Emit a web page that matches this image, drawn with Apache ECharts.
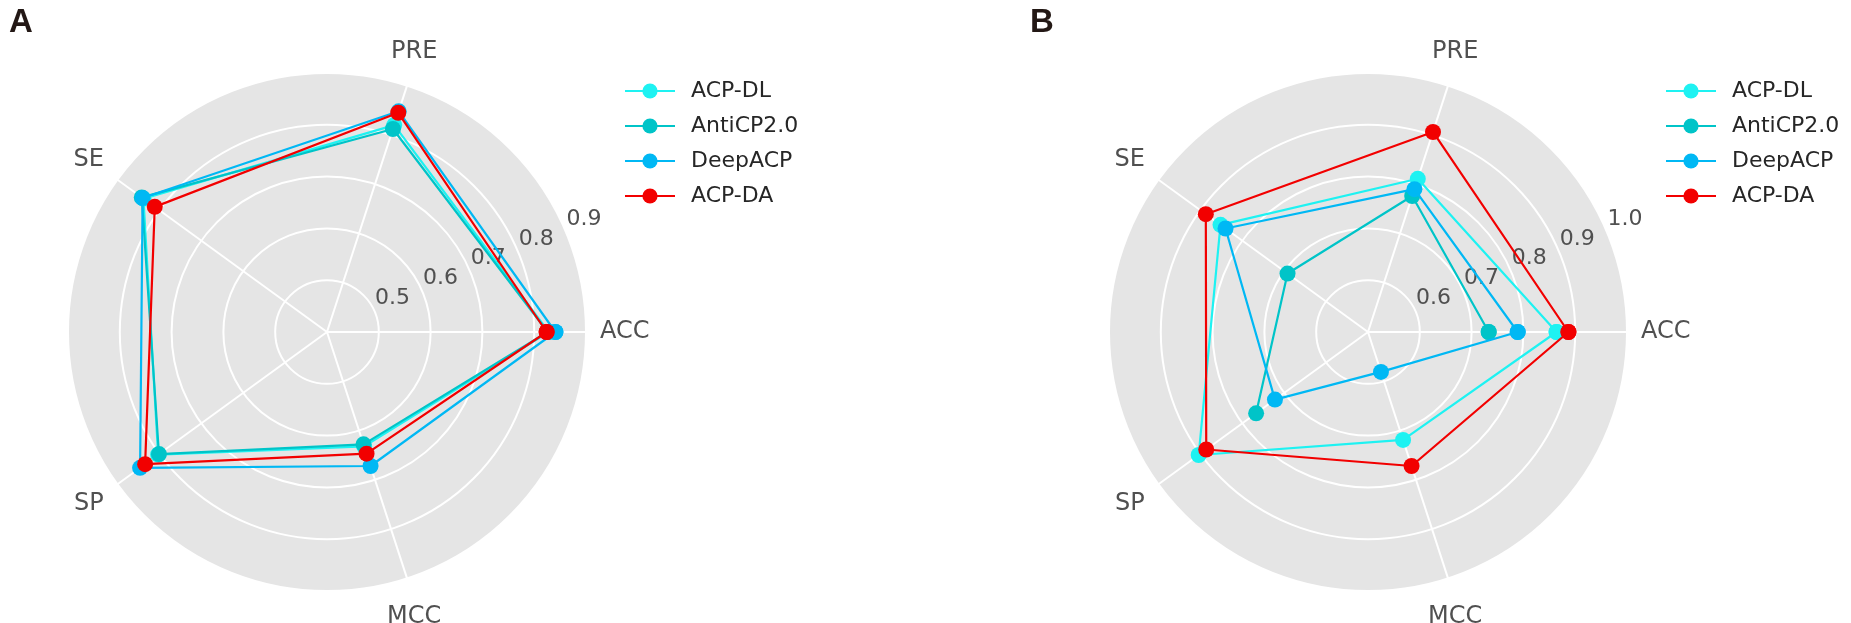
<!DOCTYPE html>
<html>
<head>
<meta charset="utf-8">
<script src="https://cdn.jsdelivr.net/npm/echarts@6/dist/echarts.min.js"></script>
<style>
  html, body { margin: 0; padding: 0; background: #fff; }
  #chart { width: 1851px; height: 623px; }
</style>
</head>
<body>
<div id="chart"></div>
<script>
// ---- data ----
const categories = ['ACC', 'PRE', 'SE', 'SP', 'MCC'];
const seriesNames = ['ACP-DL', 'AntiCP2.0', 'DeepACP', 'ACP-DA'];
const seriesColors = ['#1EF2F2', '#00C4C8', '#00B8F4', '#F20000'];

// Panel A values (order: ACC, PRE, SE, SP, MCC)
const A_ACPDL    = [0.828, 0.820, 0.838, 0.803, 0.632];
const A_AntiCP2  = [0.826, 0.812, 0.842, 0.801, 0.628];
const A_DeepACP  = [0.841, 0.848, 0.840, 0.846, 0.672];
const A_ACPDA    = [0.824, 0.845, 0.811, 0.834, 0.647];

// Panel B values (order: ACC, PRE, SE, SP, MCC); null = not drawn
const B_ACPDL    = [0.864, 0.811, 0.852, 0.904, 0.719];
const B_AntiCP2  = [0.733, 0.776, 0.692, 0.767, null];
const B_DeepACP  = [0.789, 0.790, 0.840, 0.722, 0.581];
const B_ACPDA    = [0.887, 0.906, 0.887, 0.886, 0.772];

const A_rMin = 0.4, A_rMax = 0.9;
const B_rMin = 0.5, B_rMax = 1.0;
const rInterval = 0.1;

const panelA = [A_ACPDL, A_AntiCP2, A_DeepACP, A_ACPDA];
const panelB = [B_ACPDL, B_AntiCP2, B_DeepACP, B_ACPDA];

// ---- build option ----
const angleStep = 360 / categories.length;
const closeLoop = vals => {
  const pts = vals.map((v, i) => [v, i * angleStep]);
  pts.push([vals[0], 360]);
  return pts;
};

const centers = [[327, 332], [1368, 332]];
const R = 259;
const labelColor = '#505050';
const fontFamily = 'DejaVu Sans';

// per-label text placement (padding: top, right, bottom, left)
const angleLabelRich = {
  k0: { padding: [0, 0, 0, 28] },
  k1: { padding: [0, 0, 70, 23] },
  k2: { padding: [0, 25, 32, 0] },
  k3: { padding: [32, 25, 0, 0] },
  k4: { padding: [80, 0, 0, 23] }
};
Object.keys(angleLabelRich).forEach(k => Object.assign(angleLabelRich[k], {
  fontSize: 24, lineHeight: 24, color: labelColor, fontFamily
}));

function polarSet(idx, rMin, rMax) {
  const c = centers[idx];
  return {
    polar: [
      { center: c, radius: R },
      { center: c, radius: R }
    ],
    angleAxis: [
      {
        polarIndex: idx * 2,
        type: 'value', min: 0, max: 360, interval: angleStep,
        startAngle: 0, clockwise: false, z: 3,
        axisLine: { show: false },
        axisTick: { show: false },
        axisLabel: {
          show: true, margin: -14, color: labelColor, fontSize: 24, fontFamily,
          rich: angleLabelRich,
          formatter: v => {
            const i = Math.round(v / angleStep);
            if (v >= 360 || !categories[i]) return '';
            return '{k' + i + '|' + categories[i] + '}';
          }
        },
        splitLine: { show: true, lineStyle: { color: '#ffffff', width: 2 } },
        splitArea: { show: false }
      },
      {
        polarIndex: idx * 2 + 1,
        type: 'value', min: 0, max: 360,
        startAngle: 22.5, clockwise: false,
        axisLine: { show: false }, axisTick: { show: false },
        axisLabel: { show: false }, splitLine: { show: false }
      }
    ],
    radiusAxis: [
      {
        polarIndex: idx * 2,
        type: 'value', min: rMin, max: rMax, interval: rInterval, z: 0,
        axisLine: { show: false }, axisTick: { show: false },
        axisLabel: { show: false },
        splitLine: { show: false },
        splitArea: { show: true, areaStyle: { color: ['#E5E5E5'] } }
      },
      {
        polarIndex: idx * 2 + 1,
        type: 'value', min: rMin, max: rMax, interval: rInterval, z: 2,
        axisLine: { show: false }, axisTick: { show: false },
        splitLine: { show: true, lineStyle: { color: '#ffffff', width: 2 } },
        splitArea: { show: false },
        axisLabel: {
          show: true, showMinLabel: false, margin: 15, color: labelColor,
          fontSize: 22, fontFamily, align: 'left', verticalAlign: 'middle',
          padding: [0, 0, 0, 6],
          formatter: v => v.toFixed(1)
        }
      }
    ]
  };
}

const pA = polarSet(0, A_rMin, A_rMax);
const pB = polarSet(1, B_rMin, B_rMax);

const series = [];
[panelA, panelB].forEach((panel, pIdx) => {
  panel.forEach((vals, sIdx) => {
    series.push({
      name: seriesNames[sIdx],
      type: 'line',
      coordinateSystem: 'polar',
      polarIndex: pIdx * 2,
      data: closeLoop(vals),
      connectNulls: false,
      symbol: 'circle',
      symbolSize: 16,
      showAllSymbol: true,
      smooth: false,
      lineStyle: { width: 2.2, color: seriesColors[sIdx] },
      itemStyle: { color: seriesColors[sIdx] },
      z: 10 + sIdx,
      animation: false
    });
  });
});

const legendBase = {
  orient: 'vertical',
  itemWidth: 50, itemHeight: 19, itemGap: 13,
  textStyle: { fontSize: 22, lineHeight: 22, color: '#262626', fontFamily, padding: [0, 0, 0, 11] },
  data: seriesNames,
  selectedMode: false
};

const option = {
  backgroundColor: '#ffffff',
  animation: false,
  title: [
    { text: 'A', left: 4, top: 1, textStyle: { fontSize: 33, fontWeight: 'bold', color: '#231815', fontFamily: 'Liberation Sans' } },
    { text: 'B', left: 1025, top: 1, textStyle: { fontSize: 33, fontWeight: 'bold', color: '#231815', fontFamily: 'Liberation Sans' } }
  ],
  legend: [
    Object.assign({}, legendBase, { left: 619, top: 75 }),
    Object.assign({}, legendBase, { left: 1660, top: 75 })
  ],
  polar: pA.polar.concat(pB.polar),
  angleAxis: pA.angleAxis.concat(pB.angleAxis),
  radiusAxis: pA.radiusAxis.concat(pB.radiusAxis),
  series
};

const chart = echarts.init(document.getElementById('chart'), null, { renderer: 'canvas' });
chart.setOption(option);
</script>
</body>
</html>
